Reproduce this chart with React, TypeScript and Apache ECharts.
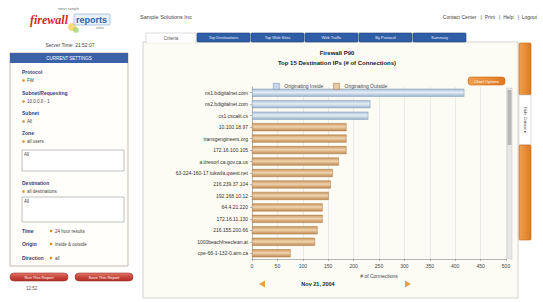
import React, { useEffect, useRef } from "react";
import * as echarts from "echarts";

const categories = [
  "ns1.bdigitalnet.com",
  "ns2.bdigitalnet.com",
  "cs1.cscalit.cs",
  "10.100.18.97",
  "transgengineers.org",
  "172.16.100.105",
  "a.ttresorl.ca.gov.ca.us",
  "63-224-160-17.tukwila.qwest.net",
  "216.239.37.104",
  "192.168.10.12",
  "64.4.21.220",
  "172.16.11.130",
  "216.155.200.66",
  "1000beachfreeclean.at",
  "cpe-66-1-132-0.aim.ca",
];
const insideValues = [418, 233, 229, null, null, null, null, null, null, null, null, null, null, null, null];
const outsideValues = [null, null, null, 186, 186, 186, 171, 159, 155, 151, 139, 139, 129, 124, 76];
const xTicks = { min: 0, max: 500, interval: 50 };
const tabs = ["Top Destinations", "Top Web Sites", "Web Traffic", "By Protocol", "Summary"];
const settings = [
  { label: "Protocol", value: "FW" },
  { label: "Subnet/Requesting", value: "10.0.0.0 - 1" },
  { label: "Subnet", value: "All" },
  { label: "Zone", value: "all users" },
];
const inlineSettings = [
  { label: "Time", value: "24 hour results" },
  { label: "Origin", value: "inside & outside" },
  { label: "Direction", value: "all" },
];

const FONT = "Liberation Sans, Arial, sans-serif";

function txt(x: number, y: number, text: string, o: any = {}) {
  return {
    type: "text",
    x,
    y,
    rotation: o.rotation || 0,
    z: 10,
    style: {
      text,
      fill: o.fill || "#333",
      font: `${o.bold ? "bold " : ""}${o.italic ? "italic " : ""}${o.size || 5}px ${o.family || FONT}`,
      textAlign: o.align || "left",
      align: o.align || "left",
      textVerticalAlign: "middle",
      verticalAlign: "middle",
    },
  };
}
function rect(x: number, y: number, w: number, h: number, fill: any, stroke?: string, r = 0, lw = 0.6) {
  return {
    type: "rect",
    z: 5,
    shape: { x, y, width: w, height: h, r },
    style: { fill, stroke: stroke || "none", lineWidth: stroke ? lw : 0 },
  };
}

export default function App() {
  const ref = useRef<HTMLDivElement>(null);
  useEffect(() => {
    if (!ref.current) return;
    const chart = echarts.init(ref.current, null, { renderer: "svg" });
    const g: any[] = [];
    // logo
    g.push(txt(58, 9, "smart sample", { size: 3.5, fill: "#777" }));
    g.push(txt(30, 20, "firewall", { size: 12, bold: true, italic: true, fill: "#d42a2a", family: "Liberation Serif, serif" }));
    g.push(rect(74, 14, 36, 11, "#e8f0f8", "#7fa7d0", 1));
    g.push(txt(76, 19.5, "reports", { size: 9, bold: true, fill: "#2a63b0" }));
    g.push(txt(96, 28, "online", { size: 3, fill: "#888" }));
    g.push({ type: "circle", z: 4, shape: { cx: 72, cy: 27, r: 4 }, style: { fill: "#f2d25a", opacity: 0.8 } });
    g.push({ type: "circle", z: 4, shape: { cx: 76, cy: 30, r: 3 }, style: { fill: "#9ccf5a", opacity: 0.7 } });
    // header texts
    g.push(txt(140, 17, "Sample Solutions Inc", { size: 5.5, fill: "#444" }));
    g.push(txt(537, 17, "Contact Center   |  Print   |  Help   |  Logout", { size: 5, fill: "#444", align: "right" }));
    g.push(txt(70, 45, "Server Time: 21:52:07", { size: 5, fill: "#444", align: "center" }));
    // left panel
    g.push(rect(10, 53, 118, 213, "#fffefa", "#b8a898", 0, 0.8));
    g.push(rect(10, 53, 118, 10, "#3b62a8"));
    g.push(txt(69, 58, "CURRENT SETTINGS", { size: 4.5, fill: "#fff", align: "center" }));
    const setY = [72, 93, 113, 133];
    settings.forEach((s, i) => {
      g.push(txt(22, setY[i], s.label, { size: 5, bold: true, fill: "#3a3a7a" }));
      g.push({ type: "circle", z: 10, shape: { cx: 23.5, cy: setY[i] + 8.5, r: 1.3 }, style: { fill: "#e0902a" } });
      g.push(txt(27, setY[i] + 8.5, s.value, { size: 4.5, fill: "#444" }));
    });
    g.push(rect(22, 150, 102, 21, "#fff", "#999"));
    g.push(txt(24, 154, "All", { size: 4.5, fill: "#444" }));
    g.push(txt(22, 183, "Destination", { size: 5, bold: true, fill: "#3a3a7a" }));
    g.push({ type: "circle", z: 10, shape: { cx: 23.5, cy: 191.5, r: 1.3 }, style: { fill: "#e0902a" } });
    g.push(txt(27, 191.5, "all destinations", { size: 4.5, fill: "#444" }));
    g.push(rect(22, 197, 102, 25, "#fff", "#999"));
    g.push(txt(24, 201, "All", { size: 4.5, fill: "#444" }));
    const inY = [231, 244, 258];
    inlineSettings.forEach((s, i) => {
      g.push(txt(22, inY[i], s.label, { size: 5, bold: true, fill: "#3a3a7a" }));
      g.push({ type: "circle", z: 10, shape: { cx: 51, cy: inY[i], r: 1.3 }, style: { fill: "#e0902a" } });
      g.push(txt(55, inY[i], s.value, { size: 4.5, fill: "#444" }));
    });
    const btnFill = new echarts.graphic.LinearGradient(0, 0, 0, 1, [
      { offset: 0, color: "#e07a6a" },
      { offset: 0.5, color: "#c8453a" },
      { offset: 1, color: "#b03028" },
    ]);
    g.push(rect(10, 273, 58, 8, btnFill, "#a03028", 4));
    g.push(txt(39, 277, "Run This Report", { size: 4, fill: "#fff", align: "center" }));
    g.push(rect(75, 273, 58, 8, btnFill, "#a03028", 4));
    g.push(txt(104, 277, "Save This Report", { size: 4, fill: "#fff", align: "center" }));
    g.push(txt(26, 288, "12:52", { size: 4.5, fill: "#555" }));
    // main panel
    g.push({ type: "rect", z: 0, shape: { x: 143, y: 42, width: 375, height: 256 }, style: { fill: "#fdfcf4", stroke: "#c8c8c8", lineWidth: 0.8 } });
    g.push(rect(146, 33, 50, 10, "#fff", "#c8c8c8"));
    g.push(rect(147, 42, 48, 1.5, "#fdfcf4"));
    g.push(txt(171, 38, "Criteria", { size: 4.5, fill: "#555", align: "center" }));
    const tabX = [197, 251, 305, 359, 413];
    tabs.forEach((t, i) => {
      g.push(rect(tabX[i], 33, 53, 9, "#2f5da6", "#1e3f78", 1));
      g.push(txt(tabX[i] + 26.5, 37.5, t, { size: 4, fill: "#e8eef8", align: "center" }));
    });
    // right orange strips
    const orange = new echarts.graphic.LinearGradient(0, 0, 1, 0, [
      { offset: 0, color: "#f0a050" },
      { offset: 1, color: "#e07820" },
    ]);
    g.push(rect(519, 43, 12, 52, orange, "#c86818", 1));
    g.push(rect(519, 95, 12, 50, "#fff", "#c8c8c8"));
    g.push(txt(525, 120, "Hide Criteria \u25B8", { size: 4, fill: "#444", align: "center", rotation: -Math.PI / 2 }));
    g.push(rect(519, 145, 12, 95, orange, "#c86818", 1));
    // chart titles
    g.push(txt(337, 53, "Firewall P90", { size: 6, bold: true, fill: "#222", align: "center" }));
    g.push(txt(337, 63, "Top 15 Destination IPs (# of Connections)", { size: 6, bold: true, fill: "#222", align: "center" }));
    g.push(rect(468, 77, 37, 8, orange, "#c86818", 3));
    g.push(txt(486.5, 81, "Chart Options", { size: 4, fill: "#fff", align: "center" }));
    // scrollbar
    g.push(rect(507, 88, 5, 171, "#e8e8e8", "#bbb", 0, 0.4));
    g.push(rect(507.5, 90, 4, 55, "#b8b8b8"));
    // date nav
    g.push({ type: "polygon", z: 10, shape: { points: [[259, 284], [265, 280.5], [265, 287.5]] }, style: { fill: "#e8a040" } });
    g.push(txt(318, 284, "Nov 21, 2004", { size: 5.5, bold: true, fill: "#222", align: "center" }));
    g.push({ type: "polygon", z: 10, shape: { points: [[411, 284], [405, 280.5], [405, 287.5]] }, style: { fill: "#e8a040" } });

    const blueGrad = new echarts.graphic.LinearGradient(0, 0, 0, 1, [
      { offset: 0, color: "#a9bfd6" },
      { offset: 0.45, color: "#e4edf6" },
      { offset: 1, color: "#9db4cc" },
    ]);
    const tanGrad = new echarts.graphic.LinearGradient(0, 0, 0, 1, [
      { offset: 0, color: "#c9965c" },
      { offset: 0.45, color: "#f0d4b0" },
      { offset: 1, color: "#bf8a50" },
    ]);

    chart.setOption({
      animation: false,
      backgroundColor: "#ffffff",
      graphic: g,
      legend: {
        left: 268,
        top: 78,
        itemWidth: 6,
        itemHeight: 6,
        itemGap: 10,
        icon: "rect",
        textStyle: { fontSize: 5, color: "#444", fontFamily: FONT },
        data: [
          { name: "Originating Inside", itemStyle: { color: "#c8d8e8", borderColor: "#7f9ab8", borderWidth: 0.6 } },
          { name: "Originating Outside", itemStyle: { color: "#e8c9a0", borderColor: "#b08050", borderWidth: 0.6 } },
        ],
      },
      grid: {
        left: 252,
        top: 87,
        width: 254,
        height: 172,
        show: true,
        backgroundColor: "#ffffff",
        borderColor: "#aaaaaa",
        borderWidth: 0.6,
      },
      xAxis: {
        type: "value",
        min: xTicks.min,
        max: xTicks.max,
        interval: xTicks.interval,
        name: "# of Connections",
        nameLocation: "middle",
        nameGap: 14,
        nameTextStyle: { fontSize: 5, color: "#444", fontFamily: FONT },
        axisLine: { show: true, lineStyle: { color: "#888", width: 0.6 } },
        axisTick: { show: true, length: 2, lineStyle: { color: "#888", width: 0.6 } },
        axisLabel: { fontSize: 5, color: "#444", margin: 4, fontFamily: FONT },
        splitLine: { show: true, lineStyle: { color: "#dddddd", width: 0.6 } },
      },
      yAxis: {
        type: "category",
        inverse: true,
        data: categories,
        axisLine: { show: true, lineStyle: { color: "#888", width: 0.6 } },
        axisTick: { show: true, length: 2, alignWithLabel: true, lineStyle: { color: "#888", width: 0.6 } },
        axisLabel: { fontSize: 5, color: "#333", margin: 4, fontFamily: FONT },
      },
      series: [
        {
          name: "Originating Inside",
          type: "bar",
          stack: "total",
          barWidth: 8,
          data: insideValues,
          itemStyle: { color: blueGrad, borderColor: "#7f9ab8", borderWidth: 0.5 },
        },
        {
          name: "Originating Outside",
          type: "bar",
          stack: "total",
          barWidth: 8,
          data: outsideValues,
          itemStyle: { color: tanGrad, borderColor: "#a87848", borderWidth: 0.5 },
        },
      ],
    });
    return () => chart.dispose();
  }, []);
  return <div ref={ref} style={{ position: "absolute", left: 0, top: 0, width: 543, height: 302 }} />;
}
